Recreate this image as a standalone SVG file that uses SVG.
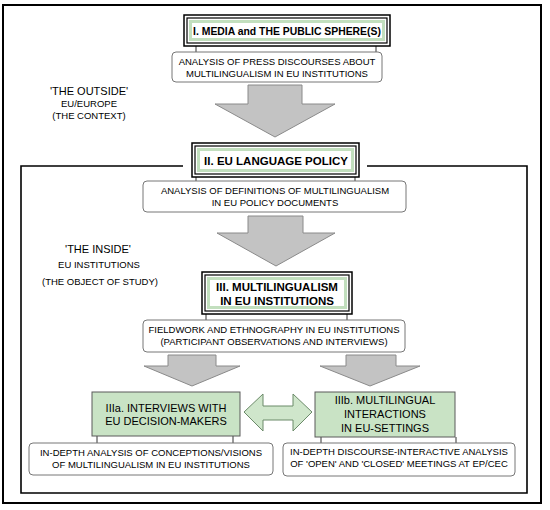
<svg xmlns="http://www.w3.org/2000/svg" width="550" height="510" viewBox="0 0 550 510">
<style>
text{font-family:"Liberation Sans",Arial,sans-serif;fill:#000;text-anchor:middle}
.t{font-size:9.5px}
.h{font-size:11.5px;font-weight:bold}
.h1{font-size:10.4px;font-weight:bold}
.g{font-size:11px}
.lab{font-size:11px}
.an{fill:#fff;stroke:#777;stroke-width:1}
.stub{stroke:#333;stroke-width:1}
.ob{fill:#fff;stroke:#000;stroke-width:1.5}
.ib{fill:none;stroke:#000;stroke-width:1.2}
.gb{fill:#fff;stroke:#c2dfbe;stroke-width:3}
.gray{fill:#c3c3c3;stroke:#8a8a8a;stroke-width:1}
.gbox{fill:#c9e3c5;stroke:#5a5a5a;stroke-width:1}
.garr{fill:#cfe6cb;stroke:#6b8a69;stroke-width:1}
.frame{fill:none;stroke:#000;stroke-width:2}
</style>
<rect width="550" height="510" fill="#fff"/>
<rect class="frame" x="3" y="5" width="538" height="498"/>
<g id="connectors">
<path class="frame" d="M183,166 H21 V493 H527 V166 H367" style="stroke-width:1.6"/>
<line class="stub" x1="196" y1="46" x2="196" y2="52"/>
<line class="stub" x1="376" y1="46" x2="376" y2="52"/>
<line class="stub" x1="196" y1="177" x2="196" y2="181"/>
<line class="stub" x1="355" y1="177" x2="355" y2="181"/>
<line class="stub" x1="206" y1="314" x2="206" y2="320"/>
<line class="stub" x1="347" y1="314" x2="347" y2="320"/>
<line class="stub" x1="97" y1="436" x2="97" y2="443"/>
<line class="stub" x1="233" y1="436" x2="233" y2="443"/>
<line class="stub" x1="321" y1="437" x2="321" y2="443"/>
<line class="stub" x1="456" y1="437" x2="456" y2="443"/>
<polygon class="gray" points="248,85 302,85 302,104 335,104 275,137 215,104 248,104"/>
<polygon class="gray" points="248,216 303,216 303,233 335,233 276,266 217,233 248,233"/>
<polygon class="gray" points="168,355 216,355 216,366 240,366 192,386 144,366 168,366"/>
<polygon class="gray" points="346,355 396,355 396,366 420,366 370,386 320,366 346,366"/>
<polygon class="garr" points="244,412 263,394 263,406 293,406 293,394 312,412 293,431 293,420 263,420 263,431"/>
</g>
<g id="outside">
<text class="lab" x="89" y="95">'THE OUTSIDE'</text>
<text class="t" x="89" y="107">EU/EUROPE</text>
<text class="t" x="89" y="119">(THE CONTEXT)</text>
</g>
<g id="inside">
<text class="lab" x="98" y="253">'THE INSIDE'</text>
<text class="t" x="99" y="268">EU INSTITUTIONS</text>
<text class="t" x="100" y="285">(THE OBJECT OF STUDY)</text>
</g>
<g id="box1">
<rect class="ob" x="184" y="15" width="206" height="31"/>
<rect class="ib" x="187" y="18" width="200" height="25"/>
<rect class="gb" x="190.5" y="21.5" width="193" height="18"/>
<text class="h1" x="287" y="34.5">I. MEDIA and THE PUBLIC SPHERE(S)</text>
</g>
<g id="an1">
<rect class="an" x="172" y="52" width="210" height="30" rx="4"/>
<text class="t" x="277" y="65">ANALYSIS OF PRESS DISCOURSES ABOUT</text>
<text class="t" x="277" y="77">MULTILINGUALISM IN EU INSTITUTIONS</text>
</g>
<g id="box2">
<rect class="ob" x="192" y="143" width="167" height="34"/>
<rect class="ib" x="195" y="146" width="161" height="28"/>
<rect class="gb" x="198.5" y="149.5" width="154" height="21"/>
<text class="h" x="276" y="164.5">II. EU LANGUAGE POLICY</text>
</g>
<g id="an2">
<rect class="an" x="143" y="181" width="263" height="31" rx="4"/>
<text class="t" x="275" y="194">ANALYSIS OF DEFINITIONS OF MULTILINGUALISM</text>
<text class="t" x="275" y="206">IN EU POLICY DOCUMENTS</text>
</g>
<g id="box3">
<rect class="ob" x="202" y="272" width="150" height="42"/>
<rect class="ib" x="205" y="275" width="144" height="36"/>
<rect class="gb" x="208.5" y="278.5" width="137" height="29"/>
<text class="h" x="277" y="291">III. MULTILINGUALISM</text>
<text class="h" x="277" y="305">IN EU INSTITUTIONS</text>
</g>
<g id="an3">
<rect class="an" x="143" y="320" width="262" height="32" rx="4"/>
<text class="t" x="274" y="333">FIELDWORK AND ETHNOGRAPHY IN EU INSTITUTIONS</text>
<text class="t" x="274" y="345">(PARTICIPANT OBSERVATIONS AND INTERVIEWS)</text>
</g>
<g id="box3a">
<rect class="gbox" x="92" y="392" width="148" height="44"/>
<text class="g" x="166" y="412">IIIa. INTERVIEWS WITH</text>
<text class="g" x="166" y="425">EU DECISION-MAKERS</text>
</g>
<g id="box3b">
<rect class="gbox" x="315" y="392" width="140" height="45"/>
<text class="g" x="385" y="404">IIIb. MULTILINGUAL</text>
<text class="g" x="385" y="418">INTERACTIONS</text>
<text class="g" x="385" y="432">IN EU-SETTINGS</text>
</g>
<g id="an3a">
<rect class="an" x="29" y="443" width="244" height="32" rx="4"/>
<text class="t" x="151" y="456">IN-DEPTH ANALYSIS OF CONCEPTIONS/VISIONS</text>
<text class="t" x="151" y="468">OF MULTILINGUALISM IN EU INSTITUTIONS</text>
</g>
<g id="an3b">
<rect class="an" x="283" y="443" width="232" height="33" rx="4"/>
<text class="t" x="399" y="455">IN-DEPTH DISCOURSE-INTERACTIVE ANALYSIS</text>
<text class="t" x="399" y="467">OF 'OPEN' AND 'CLOSED' MEETINGS AT EP/CEC</text>
</g>
</svg>
